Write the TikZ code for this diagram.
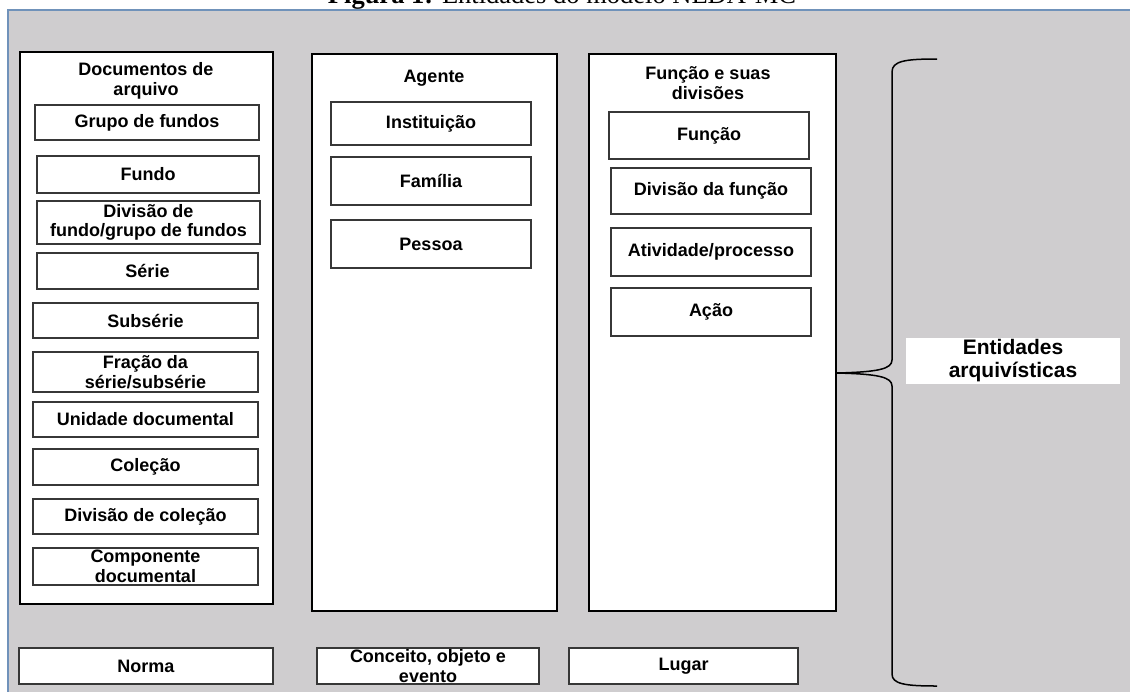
\documentclass[tikz,border=0pt]{standalone}
\usepackage{xcolor}
\usepackage{fontspec}
\setmainfont{Liberation Sans}
\newfontfamily\captionserif{Liberation Serif}
\usepackage{tikz}
\usetikzlibrary{positioning}

\definecolor{bggray}{RGB}{207,205,207}
\definecolor{frameblue}{RGB}{112,146,186}
\definecolor{boxline}{RGB}{55,55,55}

\begin{document}
\begin{tikzpicture}
  [
    x=1pt, y=-1pt,
    font=\bfseries\fontsize{18}{19.5}\selectfont,
    Panel/.style={rectangle, draw=black, fill=white, line width=2pt},
    Entry/.style={rectangle, draw=boxline, fill=white, line width=1.4pt, align=center, inner sep=0pt, minimum width=225pt, minimum height=36pt},
    Head/.style={align=center, inner sep=0pt},
    Tag/.style={rectangle, fill=white, align=center, inner sep=0pt, minimum width=214pt, minimum height=46pt, font=\bfseries\fontsize{21}{23}\selectfont},
    Brace/.style={draw=black, line width=1.5pt},
    Caption/.style={anchor=base, inner sep=0pt, font=\captionserif\mdseries\fontsize{26.5}{28}\selectfont}
  ]
  % Page and background
  \useasboundingbox (0,0) rectangle (1130,691);
  \clip (0,0) rectangle (1130,691);
  \fill[bggray] (8,10) rectangle (1140,700);
  \draw[frameblue, line width=1.3pt] (8,700) -- (8,10) -- (1140,10);
  \node[Caption] (t0) at (562,3) {\textbf{Figura 1:} Entidades do modelo NEDA-MC};

  % Panels (x, y)
  \node[Panel, minimum width=253pt, minimum height=552pt] (p0) at (146.5,328) {};
  \node[Panel, minimum width=245pt, minimum height=557pt] (p1) at (434.5,332.5) {};
  \node[Panel, minimum width=247pt, minimum height=557pt] (p2) at (712.5,332.5) {};
  \node[Head] (h0) at (146,81) {Documentos de\\arquivo};
  \node[Head] (h1) at (434,78) {Agente};
  \node[Head] (h2) at (708,83) {Função e suas\\divisões};

  % Documentos de arquivo
  \node[Entry, minimum width=224pt, minimum height=35pt] (d0) at (147,122.5) {Grupo de fundos};
  \node[Entry, minimum width=222pt, minimum height=37pt] (d1) at (148,174.5) {Fundo};
  \node[Entry, minimum width=223pt, minimum height=43pt] (d2) at (148.5,222.5) {Divisão de\\fundo/grupo de fundos};
  \node[Entry, minimum width=221pt] (d3) at (147.5,271) {Série};
  \node[Entry, minimum height=35pt] (d4) at (145.5,320.5) {Subsérie};
  \node[Entry, minimum height=40pt] (d5) at (145.5,372) {Fração da\\série/subsérie};
  \node[Entry, minimum height=35pt] (d6) at (145.5,419.5) {Unidade documental};
  \node[Entry] (d7) at (145.5,467) {Coleção};
  \node[Entry, minimum height=35pt] (d8) at (145.5,516.5) {Divisão de coleção};
  \node[Entry, minimum height=37pt] (d9) at (145.5,566.5) {Componente\\documental};

  % Agente
  \node[Entry, minimum width=200pt, minimum height=43pt] (a0) at (431,123.5) {Instituição};
  \node[Entry, minimum width=200pt, minimum height=48pt] (a1) at (431,181) {Família};
  \node[Entry, minimum width=200pt, minimum height=48pt] (a2) at (431,244) {Pessoa};

  % Função e suas divisões
  \node[Entry, minimum width=200pt, minimum height=47pt] (f0) at (709,135.5) {Função};
  \node[Entry, minimum width=200pt, minimum height=46pt] (f1) at (711,191) {Divisão da função};
  \node[Entry, minimum width=200pt, minimum height=48pt] (f2) at (711,252) {Atividade/processo};
  \node[Entry, minimum width=200pt, minimum height=48pt] (f3) at (711,312) {Ação};

  % Bottom row
  \node[Entry, minimum width=254pt] (n0) at (146,666) {Norma};
  \node[Entry, minimum width=222pt] (n1) at (428,666) {Conceito, objeto e\\evento};
  \node[Entry, minimum width=229pt] (n2) at (683.5,666) {Lugar};

  % Brace
  \coordinate (b0) at (937,59);
  \coordinate (b1) at (837,373);
  \coordinate (b2) at (937,686);
  \path[Brace] (b0) .. controls (905,59) and (892,61) .. (892,72) -- (892,360)
    .. controls (892,369) and (878,372) .. (b1)
    .. controls (878,374) and (892,377) .. (892,386) -- (892,674)
    .. controls (892,684) and (905,686) .. (b2);
  \node[Tag] (l0) at (1013,361) {Entidades\\arquivísticas};

\end{tikzpicture}
\end{document}
